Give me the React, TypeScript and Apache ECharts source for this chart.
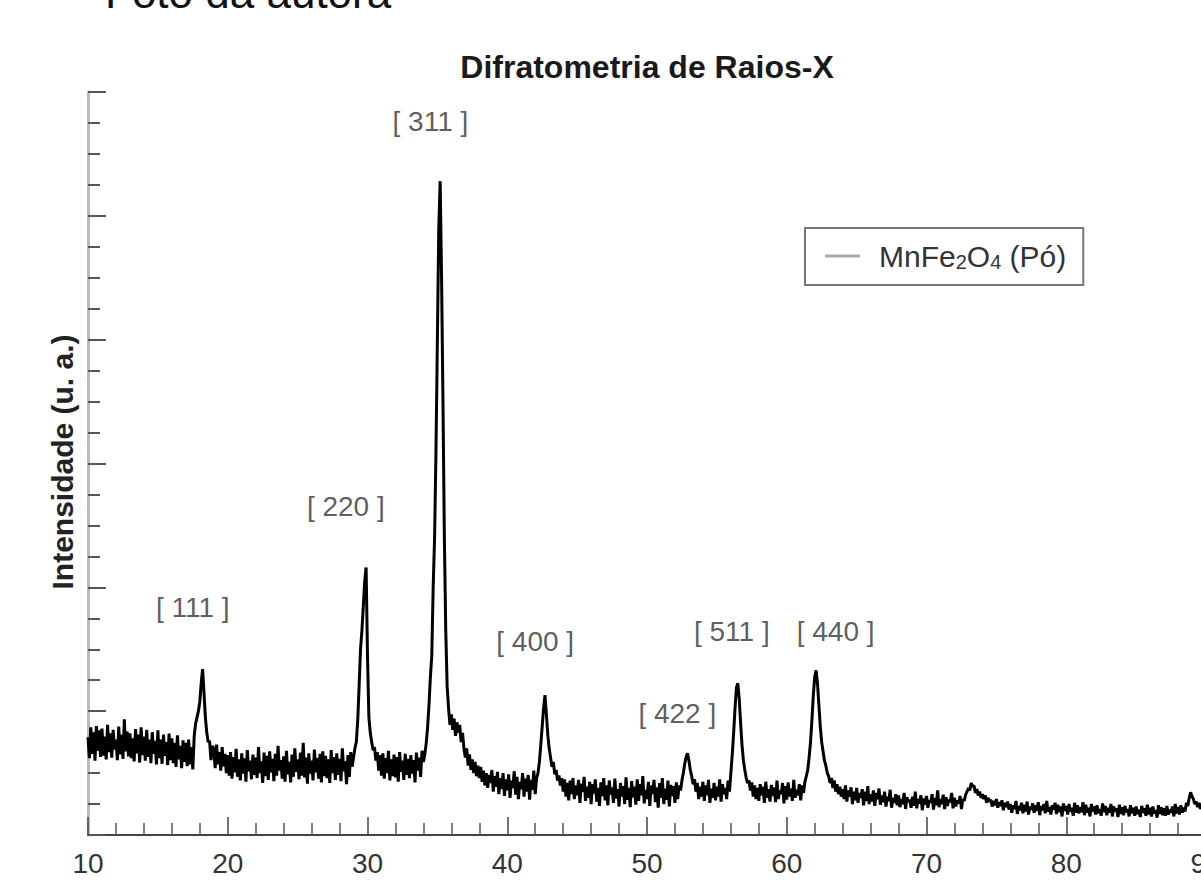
import React, { useEffect, useRef } from 'react';
import * as echarts from 'echarts';

// 2θ sampling of the diffractogram (degrees)
const X_START = 10;
const X_STEP = 0.1;

// Intensity (a.u.), 0.1° steps
const d10 = [
  158, 124, 174, 131, 166, 120, 176, 136, 169, 126,
  172, 128, 159, 122, 178, 134, 164, 125, 170, 138,
  154, 121, 175, 130, 162, 123, 187, 135, 167, 127,
  164, 124, 156, 119, 171, 132, 162, 117, 174, 129,
  159, 120, 170, 126, 154, 116, 166, 131, 152, 114,
  169, 124, 154, 115, 162, 128, 150, 113, 164, 121,
  156, 116, 149, 110, 161, 122, 144, 108, 153, 118,
  149, 111, 154, 114, 142, 106, 160, 180, 190, 200,
  215, 245, 268, 230, 190, 165, 150, 152, 121, 144,
  139, 108, 146, 114, 134, 104, 142, 111, 131, 100,
];
const d20 = [
  129, 96, 134, 91, 126, 101, 139, 94, 122, 88,
  132, 99, 124, 86, 137, 103, 120, 90, 130, 97,
  125, 92, 142, 100, 119, 84, 133, 95, 128, 89,
  135, 101, 123, 87, 131, 96, 144, 104, 121, 91,
  127, 86, 136, 98, 118, 85, 130, 94, 140, 102,
  122, 90, 133, 96, 149, 93, 125, 83, 132, 99,
  120, 88, 138, 101, 124, 91, 131, 85, 135, 95,
  128, 92, 122, 84, 137, 100, 126, 89, 132, 97,
  123, 87, 140, 103, 119, 82, 129, 94, 134, 110,
  125, 140, 150, 185, 240, 300, 330, 370, 410, 432,
];
const d30 = [
  290, 190, 165, 150, 137, 142, 120, 134, 104, 129,
  96, 132, 91, 124, 100, 136, 88, 122, 95, 130,
  93, 126, 86, 134, 102, 120, 89, 131, 97, 123,
  92, 129, 99, 121, 85, 133, 104, 125, 94, 136,
  118, 130, 148, 174, 210, 255, 290, 400, 480, 620,
  800, 980, 1056, 900, 700, 480, 330, 240, 205, 178,
  195, 170, 188, 160, 182, 165, 178, 150, 165, 140,
  125, 140, 112, 130, 105, 122, 100, 118, 95, 112,
  92, 110, 86, 104, 80, 100, 76, 97, 84, 105,
  70, 95, 78, 102, 66, 92, 74, 100, 63, 90,
];
const d40 = [
  72, 98, 60, 88, 76, 103, 65, 94, 58, 86,
  74, 100, 62, 91, 70, 97, 57, 89, 73, 104,
  66, 92, 100, 118, 145, 175, 205, 226, 195, 162,
  140, 125, 110, 118, 98, 105, 88, 96, 80, 92,
  70, 90, 62, 84, 56, 88, 66, 92, 58, 80,
  64, 89, 52, 83, 70, 94, 55, 78, 60, 86,
  50, 82, 67, 90, 54, 76, 47, 85, 63, 92,
  56, 80, 48, 88, 65, 77, 52, 91, 59, 74,
  46, 84, 62, 79, 50, 93, 57, 76, 45, 87,
  61, 78, 49, 90, 55, 82, 64, 95, 51, 73,
];
const d50 = [
  58, 86, 47, 80, 66, 89, 53, 77, 44, 84,
  60, 92, 50, 75, 57, 88, 46, 81, 63, 79,
  52, 85, 58, 80, 72, 88, 100, 115, 126, 132,
  120, 105, 95, 82, 90, 70, 84, 58, 78, 62,
  86, 55, 80, 64, 89, 52, 75, 60, 84, 56,
  78, 62, 90, 54, 82, 66, 76, 58, 88, 70,
  100, 130, 165, 205, 238, 245, 220, 180, 145, 120,
  105, 92, 84, 88, 72, 85, 62, 80, 58, 76,
  55, 82, 64, 78, 52, 86, 60, 74, 54, 81,
  63, 77, 53, 88, 58, 72, 66, 84, 51, 79,
];
const d60 = [
  57, 85, 62, 75, 55, 89, 60, 73, 64, 82,
  56, 80, 68, 86, 95, 105, 125, 150, 185, 225,
  255, 266, 245, 210, 175, 150, 135, 120, 112, 100,
  95, 84, 92, 76, 88, 70, 82, 66, 78, 62,
  74, 58, 80, 54, 72, 62, 77, 50, 70, 56,
  76, 52, 68, 60, 74, 48, 70, 55, 79, 50,
  66, 54, 72, 47, 68, 58, 75, 49, 64, 53,
  70, 46, 62, 55, 73, 44, 60, 52, 66, 48,
  64, 45, 58, 50, 68, 42, 61, 53, 57, 44,
  62, 47, 70, 43, 58, 51, 64, 40, 59, 49,
];
const d70 = [
  63, 44, 56, 52, 66, 41, 60, 48, 72, 45,
  58, 50, 65, 42, 61, 47, 57, 53, 68, 43,
  60, 46, 56, 51, 63, 42, 58, 55, 65, 70,
  76, 72, 84, 78, 80, 68, 74, 64, 70, 60,
  66, 58, 64, 52, 60, 54, 57, 46, 55, 48,
  58, 44, 53, 47, 56, 40, 52, 45, 54, 41,
  50, 36, 48, 42, 55, 34, 47, 40, 52, 35,
  49, 38, 54, 33, 46, 41, 51, 36, 48, 39,
  53, 32, 47, 40, 50, 35, 55, 38, 45, 33,
  48, 41, 52, 34, 49, 37, 46, 30, 51, 39,
];
const d80 = [
  47, 33, 50, 38, 44, 31, 52, 36, 48, 35,
  45, 37, 53, 32, 49, 36, 44, 30, 50, 38,
  46, 33, 48, 35, 42, 31, 51, 37, 47, 32,
  44, 36, 50, 30, 46, 38, 43, 29, 49, 34,
  45, 32, 47, 37, 42, 30, 48, 35, 44, 31,
  46, 34, 41, 29, 47, 36, 43, 31, 49, 33,
  44, 30, 46, 35, 40, 28, 48, 34, 45, 32,
  43, 31, 47, 33, 41, 36, 46, 30, 50, 35,
  45, 33, 48, 36, 44, 38, 52, 47, 60, 69,
  62, 58, 50, 54, 45, 52, 42, 50, 44, 48,
];
const d90 = [46];

// Miller-index annotations
const peakLabels = ['[ 111 ]', '[ 220 ]', '[ 311 ]', '[ 400 ]', '[ 422 ]', '[ 511 ]', '[ 440 ]'];
const labelX = [17.5, 28.45, 34.5, 42.0, 52.17, 56.07, 63.5];
const labelY = [368, 530, 1152, 313, 197, 328, 328];

const SERIES_NAME = 'MnFe₂O₄ (Pó)';
const FONT = '"Liberation Sans", Arial, sans-serif';

export default function App() {
  const ref = useRef<HTMLDivElement>(null);

  useEffect(() => {
    if (!ref.current) return;
    const chart = echarts.init(ref.current, null, { renderer: 'svg' });
    const values = [...d10, ...d20, ...d30, ...d40, ...d50, ...d60, ...d70, ...d80, ...d90];
    const lineData = values.map((v, i) => [Math.round((X_START + i * X_STEP) * 10) / 10, v]);
    const labelData = peakLabels.map((t, i) => [labelX[i], labelY[i], t]);

    chart.setOption({
      animation: false,
      backgroundColor: '#ffffff',
      title: {
        text: 'Difratometria de Raios-X',
        left: 642,
        top: 46,
        textAlign: 'center',
        textStyle: { fontFamily: FONT, fontWeight: 'bold', fontSize: 32, color: '#1a1a1a' },
      },
      legend: {
        data: [SERIES_NAME],
        left: 805,
        top: 228,
        icon: 'rect',
        itemWidth: 35,
        itemHeight: 3,
        padding: [12, 17, 13, 20],
        borderColor: '#777',
        borderWidth: 2,
        itemStyle: { color: '#aaa' },
        lineStyle: { color: '#aaa' },
        formatter: () => 'MnFe{s|2}O{s|4} (Pó)',
        textStyle: {
          fontFamily: FONT,
          fontSize: 30,
          lineHeight: 32,
          color: '#333',
          padding: [0, 0, 0, 14],
          rich: {
            s: { fontFamily: FONT, fontSize: 20, lineHeight: 20, color: '#333', verticalAlign: 'bottom' },
          },
        },
      },
      grid: { left: 88, top: 92, width: 1118, height: 743, containLabel: false, outerBoundsMode: 'none' },
      xAxis: {
        type: 'value',
        min: 10,
        max: 90,
        interval: 10,
        axisLine: { show: true, lineStyle: { color: '#444', width: 2 } },
        axisTick: { show: true, inside: true, length: 18, lineStyle: { color: '#444', width: 1.5 } },
        minorTick: { show: true, splitNumber: 5, length: 12, lineStyle: { color: '#555', width: 1.5 } },
        splitLine: { show: false },
        axisLabel: { fontFamily: FONT, fontSize: 28, color: '#333', margin: 14 },
      },
      yAxis: {
        type: 'value',
        min: 0,
        max: 1200,
        interval: 200,
        axisLine: { show: true, lineStyle: { color: '#bbb', width: 3 } },
        axisTick: { show: true, inside: true, length: 18, lineStyle: { color: '#555', width: 2 } },
        minorTick: { show: true, splitNumber: 4, length: 12, lineStyle: { color: '#555', width: 2 } },
        splitLine: { show: false },
        axisLabel: { show: false },
      },
      graphic: [
        {
          type: 'text',
          x: 105,
          y: -8,
          silent: true,
          style: {
            text: 'Foto da autora',
            font: '44px ' + FONT,
            fill: '#111',
            textAlign: 'left',
            textVerticalAlign: 'middle',
          },
        },
        {
          type: 'text',
          x: 62,
          y: 462,
          rotation: Math.PI / 2,
          silent: true,
          style: {
            text: 'Intensidade (u. a.)',
            font: 'bold 30px ' + FONT,
            fill: '#222',
            textAlign: 'center',
            textVerticalAlign: 'middle',
          },
        },
      ],
      series: [
        {
          name: SERIES_NAME,
          type: 'line',
          data: lineData,
          showSymbol: false,
          symbol: 'none',
          lineStyle: { color: '#000', width: 3 },
          itemStyle: { color: '#000' },
          z: 2,
        },
        {
          type: 'scatter',
          data: labelData,
          symbolSize: 1,
          itemStyle: { color: 'rgba(0,0,0,0)' },
          silent: true,
          z: 3,
          label: {
            show: true,
            position: 'inside',
            formatter: (p: any) => p.data[2],
            fontFamily: FONT,
            fontSize: 28,
            color: '#333',
          },
        },
      ],
    });

    return () => chart.dispose();
  }, []);

  return (
    <div
      ref={ref}
      style={{ position: 'absolute', left: 0, top: 0, width: 1201, height: 882, background: '#fff' }}
    />
  );
}
